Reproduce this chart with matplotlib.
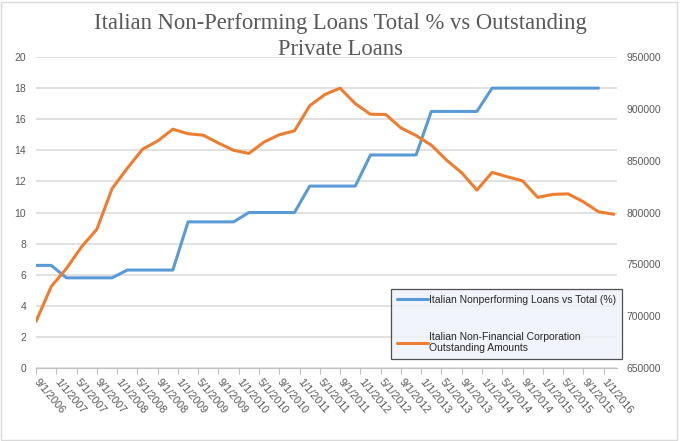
import matplotlib
matplotlib.use("Agg")
import matplotlib.pyplot as plt
import matplotlib.patches as patches
import pandas as pd

# ---------- Data ----------
# quarterly observations starting 9/1/2006
npl_pct = [6.6, 6.6, 5.8, 5.8, 5.8, 5.8, 6.3, 6.3, 6.3, 6.3,
           9.4, 9.4, 9.4, 9.4, 10.0, 10.0, 10.0, 10.0, 11.7, 11.7,
           11.7, 11.7, 13.7, 13.7, 13.7, 13.7, 16.5, 16.5, 16.5, 16.5,
           18.0, 18.0, 18.0, 18.0, 18.0, 18.0, 18.0, 18.0]
nfc_loans = [695000, 728600, 746000, 767000, 783800, 823000, 842600, 861000, 869000, 880400,
             876000, 874600, 867000, 860000, 857000, 868000, 875000, 878800, 903000, 913800,
             920000, 905000, 894800, 894600, 881600, 874300, 865000, 850600, 838400, 821600,
             838700, 834500, 830600, 814600, 817500, 818000, 810400, 800700, 798300]

start = pd.Timestamp("2006-09-01")
obs_dates = pd.date_range(start, periods=len(nfc_loans), freq="3MS")
tick_dates = pd.date_range(start, "2016-01-01", freq="4MS")

def month_idx(d):  # months since start, like an excel date axis in months
    return (d.year - start.year) * 12 + d.month - start.month

x_obs = [month_idx(d) for d in obs_dates]
x_ticks = [month_idx(d) for d in tick_dates]
tick_labels = [f"{d.month}/{d.day}/{d.year}" for d in tick_dates]

title_lines = ["Italian Non-Performing Loans Total % vs Outstanding", "Private Loans"]
label_npl = "Italian Nonperforming Loans vs Total (%)"
label_nfc = "Italian Non-Financial Corporation\nOutstanding Amounts"

# ---------- Style ----------
blue = "#5B9BD5"
orange = "#ED7D31"
txt = "#595959"
grid = "#D9D9D9"
plt.rcParams["font.family"] = ["Liberation Sans", "DejaVu Sans"]

fig = plt.figure(figsize=(6.8, 4.41), dpi=100)
ax1 = fig.add_axes([0.053, 0.1655, 0.854, 0.7052])
ax2 = ax1.twinx()

ax1.plot(x_obs[:len(npl_pct)], npl_pct, color=blue, lw=2.2, label=label_npl, solid_capstyle="round", zorder=3)
ax2.plot(x_obs, nfc_loans, color=orange, lw=2.2, label=label_nfc, solid_capstyle="round", zorder=3)

# --- axes limits / ticks
ax1.set_xlim(0, 114.6)
ax1.set_ylim(0, 20)
ax1.set_yticks(range(0, 21, 2))
ax2.set_ylim(650000, 950000)
ax2.set_yticks(range(650000, 950001, 50000))

ax1.set_xticks(x_ticks)
ax1.set_xticklabels(tick_labels, rotation=-50, ha="left", va="center", rotation_mode="anchor")

ax1.yaxis.grid(True, color=grid, lw=1.1)
ax1.set_axisbelow(True)

for ax in [ax1, ax2]:
    for s in ["top", "left", "right", "bottom"]:
        ax.spines[s].set_visible(False)
    ax.tick_params(axis="y", length=0, pad=7, labelsize=7.5, labelcolor=txt)
ax1.spines["bottom"].set_visible(True)
ax1.spines["bottom"].set_color("#BFBFBF")
ax1.tick_params(axis="x", length=4, color="#BFBFBF", pad=5, labelsize=7.8, labelcolor=txt)

# --- title (two lines, placed by baseline)
fig.text(0.5, 0.934, title_lines[0], ha="center", va="baseline", fontsize=16.3,
         color=txt, family="Liberation Serif")
fig.text(0.5, 0.875, title_lines[1], ha="center", va="baseline", fontsize=16.3,
         color=txt, family="Liberation Serif")

# --- legend
h1, l1 = ax1.get_legend_handles_labels()
h2, l2 = ax2.get_legend_handles_labels()
leg = ax2.legend(h1 + h2, l1 + l2, loc="upper left", bbox_to_anchor=(0.611, 0.254),
                 borderaxespad=0, fontsize=7.5, frameon=True, fancybox=False,
                 handlelength=3.0, handletextpad=0.1, borderpad=0.55, labelspacing=2.6)
leg.get_frame().set_facecolor("#EEF3FA")
leg.get_frame().set_edgecolor("#262626")
leg.get_frame().set_linewidth(0.9)
for t in leg.get_texts():
    t.set_color("#262626")

# --- chart border
fig.patches.append(patches.Rectangle((0.002, 0.003), 0.994, 0.993, transform=fig.transFigure,
                                     fill=False, edgecolor=grid, lw=1))

fig.savefig("out.png", dpi=100)
